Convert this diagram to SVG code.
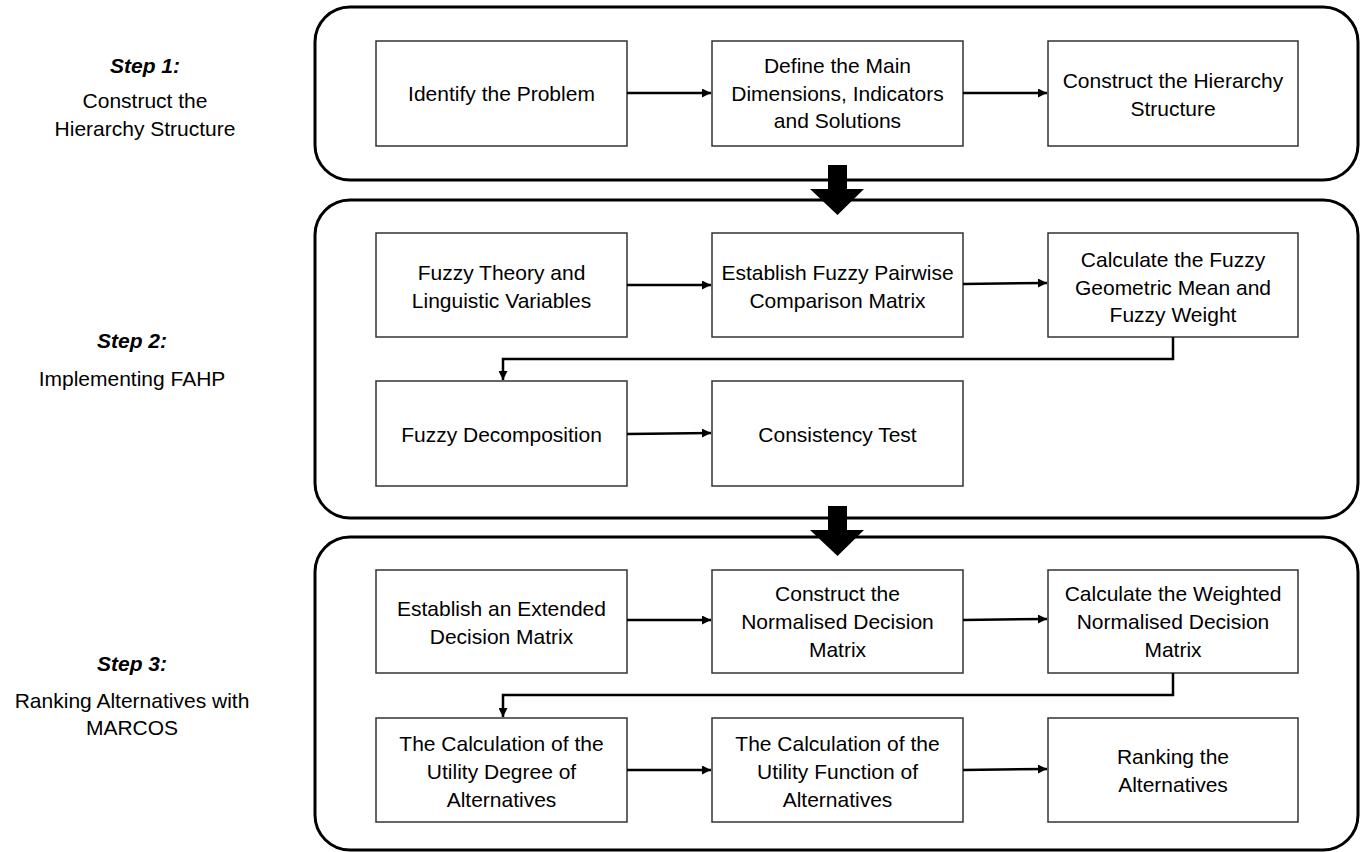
<svg xmlns="http://www.w3.org/2000/svg" width="1362" height="852" viewBox="0 0 1362 852">
<defs>
<marker id="ah" viewBox="0 0 10 10" refX="10" refY="5" markerWidth="10" markerHeight="9" markerUnits="userSpaceOnUse" orient="auto">
<path d="M0,0 L10,5 L0,10 Z" fill="#000"/>
</marker>
<style>
.cont{fill:none;stroke:#000;stroke-width:3}
.box{fill:#fff;stroke:#333;stroke-width:1.5}
.t{font-family:"Liberation Sans",Arial,sans-serif;font-size:21px;fill:#000;text-anchor:middle}
.s{font-weight:bold;font-style:italic}
.c{fill:none;stroke:#000;stroke-width:2.5}
.big{fill:#000}
</style>
</defs>
<rect width="1362" height="852" fill="#fff"/>
<g id="labels">
<text class="t s" x="145" y="73">Step 1:</text>
<text class="t" x="145" y="108">Construct the</text>
<text class="t" x="145" y="136">Hierarchy Structure</text>
<text class="t s" x="132" y="348">Step 2:</text>
<text class="t" x="132" y="386">Implementing FAHP</text>
<text class="t s" x="132" y="671">Step 3:</text>
<text class="t" x="132" y="708">Ranking Alternatives with</text>
<text class="t" x="132" y="735">MARCOS</text>
</g>
<g id="containers">
<rect id="stage1" class="cont" x="315" y="7" width="1043" height="173" rx="35"/>
<rect id="stage2" class="cont" x="315" y="200" width="1043" height="318" rx="35"/>
<rect id="stage3" class="cont" x="315" y="537" width="1043" height="313" rx="35"/>
</g>
<g id="bigarrows">
<path class="big" d="M828,165 H847 V189 H864 L837.5,215 L810,189 H828 Z"/>
<path class="big" d="M828,506 H847 V530 H864 L837.5,556 L810,530 H828 Z"/>
</g>
<g id="n1"><rect class="box" x="376" y="41" width="251" height="105"/><text class="t" x="501.5" y="101">Identify the Problem</text></g>
<g id="n2"><rect class="box" x="712" y="41" width="251" height="105"/><text class="t" x="837.5" y="73">Define the Main</text><text class="t" x="837.5" y="101">Dimensions, Indicators</text><text class="t" x="837.5" y="128">and Solutions</text></g>
<g id="n3"><rect class="box" x="1048" y="41" width="250" height="105"/><text class="t" x="1173" y="88">Construct the Hierarchy</text><text class="t" x="1173" y="116">Structure</text></g>
<g id="n4"><rect class="box" x="376" y="233" width="251" height="104"/><text class="t" x="501.5" y="280">Fuzzy Theory and</text><text class="t" x="501.5" y="308">Linguistic Variables</text></g>
<g id="n5"><rect class="box" x="712" y="233" width="251" height="104"/><text class="t" x="837.5" y="280">Establish Fuzzy Pairwise</text><text class="t" x="837.5" y="308">Comparison Matrix</text></g>
<g id="n6"><rect class="box" x="1048" y="233" width="250" height="104"/><text class="t" x="1173" y="267">Calculate the Fuzzy</text><text class="t" x="1173" y="295">Geometric Mean and</text><text class="t" x="1173" y="322">Fuzzy Weight</text></g>
<g id="n7"><rect class="box" x="376" y="381" width="251" height="105"/><text class="t" x="501.5" y="442">Fuzzy Decomposition</text></g>
<g id="n8"><rect class="box" x="712" y="381" width="251" height="105"/><text class="t" x="837.5" y="442">Consistency Test</text></g>
<g id="n9"><rect class="box" x="376" y="570" width="251" height="103"/><text class="t" x="501.5" y="616">Establish an Extended</text><text class="t" x="501.5" y="644">Decision Matrix</text></g>
<g id="n10"><rect class="box" x="712" y="570" width="251" height="103"/><text class="t" x="837.5" y="601">Construct the</text><text class="t" x="837.5" y="629">Normalised Decision</text><text class="t" x="837.5" y="657">Matrix</text></g>
<g id="n11"><rect class="box" x="1048" y="570" width="250" height="103"/><text class="t" x="1173" y="601">Calculate the Weighted</text><text class="t" x="1173" y="629">Normalised Decision</text><text class="t" x="1173" y="657">Matrix</text></g>
<g id="n12"><rect class="box" x="376" y="718" width="251" height="104"/><text class="t" x="501.5" y="751">The Calculation of the</text><text class="t" x="501.5" y="779">Utility Degree of</text><text class="t" x="501.5" y="807">Alternatives</text></g>
<g id="n13"><rect class="box" x="712" y="718" width="251" height="104"/><text class="t" x="837.5" y="751">The Calculation of the</text><text class="t" x="837.5" y="779">Utility Function of</text><text class="t" x="837.5" y="807">Alternatives</text></g>
<g id="n14"><rect class="box" x="1048" y="718" width="250" height="104"/><text class="t" x="1173" y="764">Ranking the</text><text class="t" x="1173" y="792">Alternatives</text></g>
<g id="connectors">
<line class="c" x1="627" y1="93" x2="711" y2="93" marker-end="url(#ah)"/>
<line class="c" x1="963" y1="93" x2="1047" y2="93" marker-end="url(#ah)"/>
<line class="c" x1="627" y1="285" x2="711" y2="285" marker-end="url(#ah)"/>
<line class="c" x1="963" y1="284" x2="1047" y2="283" marker-end="url(#ah)"/>
<polyline class="c" points="1173,337 1173,359 503,359 503,380" marker-end="url(#ah)"/>
<line class="c" x1="627" y1="434" x2="711" y2="433" marker-end="url(#ah)"/>
<line class="c" x1="627" y1="620" x2="711" y2="620" marker-end="url(#ah)"/>
<line class="c" x1="963" y1="620" x2="1047" y2="619" marker-end="url(#ah)"/>
<polyline class="c" points="1173,673 1173,695 503,695 503,717" marker-end="url(#ah)"/>
<line class="c" x1="627" y1="770" x2="711" y2="770" marker-end="url(#ah)"/>
<line class="c" x1="963" y1="770" x2="1047" y2="769" marker-end="url(#ah)"/>
</g>
</svg>
